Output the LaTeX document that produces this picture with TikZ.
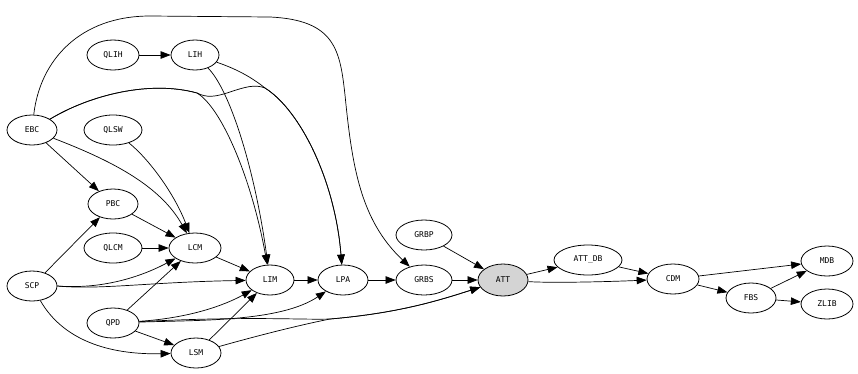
\documentclass[tikz,border=0pt]{standalone}
\usepackage{fontspec}
\setmonofont{DejaVu Sans Mono}
\usetikzlibrary{arrows.meta,shapes.geometric}
\tikzset{
  nd/.style={draw, ellipse, line width=0.8pt, inner sep=0pt, minimum height=30pt,
             font=\ttfamily\fontsize{8}{8}\selectfont},
  hl/.style={nd, fill=black!17},
  arr/.style={line width=0.7pt, -{Triangle[length=10pt,width=7.5pt]}}
}
\begin{document}
\begin{tikzpicture}[x=1pt,y=-1pt]
\useasboundingbox (0,0) rectangle (858,373);
% nodes
\node[nd, minimum width=50pt] (EBC)  at (32,130)  {EBC};
\node[nd, minimum width=52pt] (QLIH) at (113,55)  {QLIH};
\node[nd, minimum width=48pt] (LIH)  at (195,55)  {LIH};
\node[nd, minimum width=58pt] (QLSW) at (113,130) {QLSW};
\node[nd, minimum width=50pt] (PBC)  at (113,204) {PBC};
\node[nd, minimum width=58pt] (QLCM) at (113,248) {QLCM};
\node[nd, minimum width=52pt] (LCM)  at (195,248) {LCM};
\node[nd, minimum width=50pt] (SCP)  at (32,286)  {SCP};
\node[nd, minimum width=52pt] (QPD)  at (113,323) {QPD};
\node[nd, minimum width=50pt] (LSM)  at (196,353) {LSM};
\node[nd, minimum width=48pt] (LIM)  at (270,280) {LIM};
\node[nd, minimum width=50pt] (LPA)  at (343,280) {LPA};
\node[nd, minimum width=56pt] (GRBP) at (424,235) {GRBP};
\node[nd, minimum width=56pt] (GRBS) at (424,280) {GRBS};
\node[hl, minimum width=50pt, minimum height=32pt] (ATT) at (503,280) {ATT};
\node[nd, minimum width=68pt] (ATTDB) at (588,260) {ATT\_DB};
\node[nd, minimum width=52pt] (CDM)  at (673,279) {CDM};
\node[nd, minimum width=50pt] (FBS)  at (751,298) {FBS};
\node[nd, minimum width=52pt] (MDB)  at (827,261) {MDB};
\node[nd, minimum width=52pt] (ZLIB) at (827,304) {ZLIB};
% edges
\draw[arr] (QLIH) -- (LIH);
\draw[arr] (EBC) .. controls (40,60) and (80,16) .. (150,16) -- (270,17)
  .. controls (335,20) and (340,50) .. (345,95)
  .. controls (352,165) and (360,220) .. (GRBS);
\draw[arr] (EBC) .. controls (90,95) and (150,80) .. (197,93)
  .. controls (222,108) and (252,180) .. (LIM);
\draw[arr] (EBC) .. controls (90,95) and (150,80) .. (197,93)
  .. controls (207,98) and (215,97) .. (230,92)
  .. controls (245,87) and (255,84) .. (265,88)
  .. controls (300,110) and (335,180) .. (LPA);
\draw[arr] (LIH) .. controls (240,70) and (255,80) .. (265,88)
  .. controls (300,110) and (335,180) .. (LPA);
\draw[arr] (LIH) .. controls (230,90) and (255,170) .. (LIM);
\draw[arr] (EBC) -- (PBC);
\draw[arr] (EBC) .. controls (110,160) and (160,185) .. (LCM);
\draw[arr] (QLSW) .. controls (150,160) and (175,195) .. (LCM);
\draw[arr] (PBC) -- (LCM);
\draw[arr] (QLCM) -- (LCM);
\draw[arr] (SCP) -- (PBC);
\draw[arr] (SCP.east) .. controls (110,290) and (150,272) .. (LCM);
\draw[arr] (SCP.east) .. controls (100,290) and (150,282) .. (LIM);
\draw[arr] (SCP) .. controls (60,335) and (100,355) .. (LSM);
\draw[arr] (QPD) -- (LCM);
\draw[arr] (QPD) -- (LSM);
\draw[arr] (QPD) .. controls (190,318) and (225,305) .. (LIM);
\draw[arr] (QPD) .. controls (200,320) and (280,322) .. (LPA);
\draw[arr] (QPD) .. controls (250,316) and (300,320) .. (330,319)
  .. controls (400,313) and (440,300) .. (ATT);
\draw[arr] (LSM) .. controls (260,335) and (300,325) .. (330,319)
  .. controls (400,313) and (440,300) .. (ATT);
\draw[arr] (LSM) -- (LIM);
\draw[arr] (LCM) -- (LIM);
\draw[arr] (LIM) -- (LPA);
\draw[arr] (LPA) -- (GRBS);
\draw[arr] (GRBS) -- (ATT);
\draw[arr] (GRBP) -- (ATT);
\draw[arr] (ATT) -- (ATTDB);
\draw[arr] (ATT) .. controls (550,283) and (600,282) .. (CDM);
\draw[arr] (ATTDB) -- (CDM);
\draw[arr] (CDM) -- (MDB);
\draw[arr] (CDM) -- (FBS);
\draw[arr] (FBS) -- (MDB);
\draw[arr] (FBS) -- (ZLIB);
\end{tikzpicture}
\end{document}
